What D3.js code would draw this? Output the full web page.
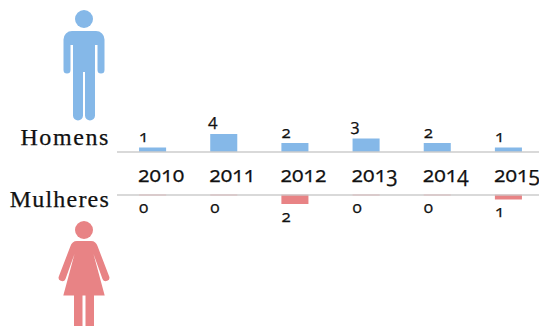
<!DOCTYPE html>
<html><head><meta charset="utf-8">
<script src="https://cdn.jsdelivr.net/npm/d3@7"></script>
<style>
html,body{margin:0;padding:0;background:#fff}
svg{display:block}
text{font-family:"Liberation Serif",serif;fill:#111;stroke:#111;stroke-width:.25;font-feature-settings:"onum" 1;font-variant-numeric:oldstyle-nums}
.num{font-family:"Open Sans","Noto Sans",sans-serif}
</style></head><body>
<svg id="c" width="539" height="326"></svg>
<script>
const years=["2010","2011","2012","2013","2014","2015"];
const homens=[1,4,2,3,2,1];
const mulheres=[0,0,2,0,0,1];
const maleColor="#85b8e8", femaleColor="#e88385", axisColor="#cccccc";
const svg=d3.select("#c");
const x=d3.scaleBand().domain(years).range([117,544]).paddingInner(0.62).paddingOuter(0.31);
const yUp=d3.scaleLinear().domain([0,4]).range([152,134]);
const yDown=d3.scaleLinear().domain([0,4]).range([195,213]);
svg.selectAll(".m").data(years).join("rect").attr("x",d=>x(d)).attr("width",x.bandwidth())
 .attr("y",(d,i)=>yUp(homens[i])).attr("height",(d,i)=>yUp(0)-yUp(homens[i])).attr("fill",maleColor);
svg.selectAll(".f").data(years).join("rect").attr("x",d=>x(d)).attr("width",x.bandwidth())
 .attr("y",yDown(0)).attr("height",(d,i)=>yDown(mulheres[i])-yDown(0)).attr("fill",femaleColor);
[152,195].forEach(y=>svg.append("line").attr("x1",117).attr("x2",539).attr("y1",y).attr("y2",y).attr("stroke",axisColor).attr("stroke-width",1.5));
svg.append("g").selectAll("line").data(years).join("line").attr("x1",d=>x(d)).attr("x2",d=>x(d)+x.bandwidth())
 .attr("y1",195).attr("y2",195).attr("stroke",femaleColor).attr("stroke-opacity",0.2).attr("stroke-width",1.5);
const big=d=>d>=3;
svg.append("g").selectAll("text").data(years).join("text").attr("class","num").attr("x",d=>x(d)-1).attr("y",182)
 .attr("font-size",21).attr("letter-spacing",0.1).text(d=>d);
svg.append("g").selectAll("text").data(years).join("text").attr("class","num").attr("x",(d,i)=>x(d)-(big(homens[i])?2:0)).attr("y",(d,i)=>yUp(homens[i])-(big(homens[i])?8:5.5))
 .attr("font-size",17).text((d,i)=>homens[i]);
svg.append("g").selectAll("text").data(years).join("text").attr("class","num").attr("x",d=>x(d)).attr("y",(d,i)=>yDown(mulheres[i])+17.5)
 .attr("font-size",17).text((d,i)=>mulheres[i]);
svg.append("text").attr("x",110).attr("y",145).attr("text-anchor","end").attr("font-size",24).attr("letter-spacing",1.6).text("Homens");
svg.append("text").attr("x",110).attr("y",207).attr("text-anchor","end").attr("font-size",24).attr("letter-spacing",1.2).text("Mulheres");
// icons
svg.append("circle").attr("cx",84).attr("cy",19).attr("r",9).attr("fill",maleColor);
svg.append("path").attr("fill",maleColor).attr("d","M72,31H96A8.5,8.5 0 0 1 104.5,39.5V70A3.5,3.5 0 0 1 97.5,70V45H95V115.5A5,5 0 0 1 85,115.5V72H83V115.5A5,5 0 0 1 73,115.5V45H70.5V70A3.5,3.5 0 0 1 63.5,70V39.5A8.5,8.5 0 0 1 72,31Z");
svg.append("circle").attr("cx",84).attr("cy",230).attr("r",9).attr("fill",femaleColor);
svg.append("path").attr("fill",femaleColor).attr("d","M77,241H91C94.5,241 96.5,243 97.5,246L109,276A3.5,3.5 0 0 1 102.5,279L93.5,254L104.7,295.5H94V326H85.5V295.5H82.5V326H74V295.5H63.3L74.5,254L65.5,279A3.5,3.5 0 0 1 59,276L70.5,246C71.5,243 73.5,241 77,241Z");
</script></body></html>
